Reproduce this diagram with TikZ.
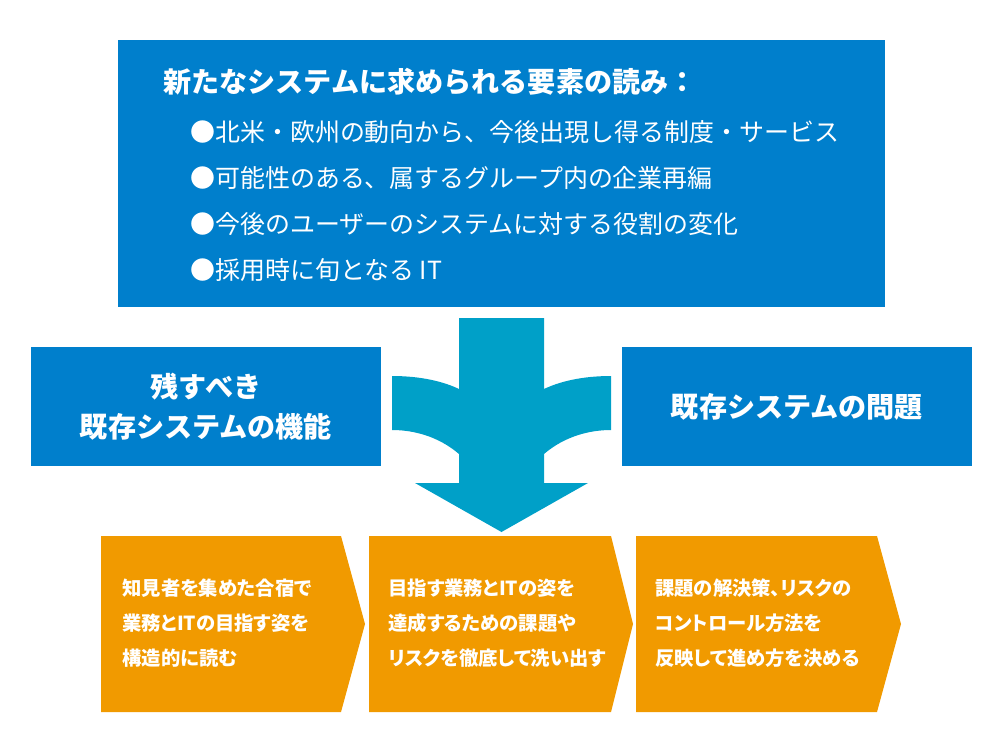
\documentclass[tikz,border=0pt]{standalone}
\usepackage{fontspec}
\setmainfont{Noto Sans CJK JP}
\newfontfamily\stepfont[RawFeature=+palt]{Noto Sans CJK JP}
\usepackage{tikz}
\definecolor{boxblue}{RGB}{0,127,204}
\definecolor{arrowcyan}{RGB}{0,160,200}
\definecolor{steporange}{RGB}{241,154,0}

\begin{document}
\begin{tikzpicture}[x=0.02cm,y=-0.02cm,
		bluebox/.style={fill=boxblue,inner sep=0pt,text=white,align=center,font={\fontsize{16}{22.7}\selectfont\bfseries}},
		headtext/.style={text=white,inner sep=0pt,anchor=west,font={\fontsize{16}{20}\selectfont\bfseries}},
		itemtext/.style={text=white,inner sep=0pt,anchor=west,font={\fontsize{14.2}{18}\selectfont}},
		stepshape/.style={fill=steporange},
		steptext/.style={text=white,inner sep=0pt,anchor=west,align=left,font={\stepfont\fontsize{11}{19.9}\selectfont\bfseries}}]
		\path[use as bounding box] (0,0) rectangle (1000,750);
		
		\node[bluebox,minimum width=15.34cm,minimum height=5.34cm] (req) at (501.5,173.5) {};
		\node[headtext] (head) at (163,82) {新たなシステムに求められる要素の読み：};
		\node[itemtext] (item1) at (190,132) {●北米・欧州の動向から、今後出現し得る制度・サービス};
		\node[itemtext] (item2) at (190,178) {●可能性のある、属するグループ内の企業再編};
		\node[itemtext] (item3) at (190,224) {●今後のユーザーのシステムに対する役割の変化};
		\node[itemtext] (item4) at (190,270) {●採用時に旬となる IT};
		
		\node[bluebox,minimum width=7cm,minimum height=2.38cm] (keep) at (206,406.5) {残すべき\\既存システムの機能};
		\node[bluebox,minimum width=7cm,minimum height=2.38cm] (issue) at (797,406.5) {既存システムの問題};
		
		\fill[arrowcyan] (459,318) -- (544,318) -- (544,389) .. controls (565,379) and (590,376) .. (611,376) -- (611,430) .. controls (590,430) and (565,436) .. (544,454) -- (544,483) -- (588,483) -- (501.5,532) -- (415,483) -- (459,483) -- (459,454) .. controls (438,436) and (413,430) .. (392,430) -- (392,376) .. controls (413,376) and (438,379) .. (459,389) -- cycle;
		
		\fill[stepshape] (101,536) -- (341,536) -- (365,624) -- (341,712) -- (101,712) -- cycle;
		\fill[stepshape] (369,536) -- (611,536) -- (633,624) -- (611,712) -- (369,712) -- cycle;
		\fill[stepshape] (636,536) -- (877,536) -- (901,624) -- (877,712) -- (636,712) -- cycle;
		
		\node[steptext] (step1) at (122,623) {知見者を集めた合宿で\\業務とITの目指す姿を\\構造的に読む};
		\node[steptext] (step2) at (388,623) {目指す業務とITの姿を\\達成するための課題や\\リスクを徹底して洗い出す};
		\node[steptext] (step3) at (655,623) {課題の解決策、リスクの\\コントロール方法を\\反映して進め方を決める};
	\end{tikzpicture}
\end{document}
